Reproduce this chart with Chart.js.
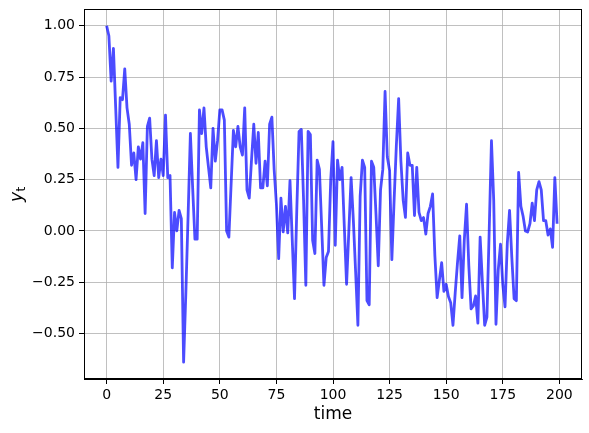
<!DOCTYPE html>
<html>
<head>
<meta charset="utf-8">
<script src="https://cdn.jsdelivr.net/npm/chart.js@4/dist/chart.umd.min.js"></script>
<style>
    body { margin: 0; background: #fff; }
    #wrap { width: 589px; height: 433px; }
</style>
</head>
<body>
<div id="wrap"><canvas id="seriesChart" width="589" height="433"></canvas></div>
<script>
// series y_t, one value per time step (t = 0 .. 199)
const values = [
    1.0, 0.95, 0.73, 0.89, 0.6, 0.31, 0.65, 0.64, 0.79, 0.6,
    0.52, 0.32, 0.38, 0.25, 0.41, 0.35, 0.43, 0.085, 0.51, 0.55,
    0.35, 0.27, 0.44, 0.26, 0.35, 0.27, 0.565, 0.26, 0.27, -0.18,
    0.09, 0.0, 0.1, 0.06, -0.64, -0.3, 0.08, 0.475, 0.21, -0.04,
    -0.04, 0.59, 0.475, 0.6, 0.41, 0.31, 0.21, 0.5, 0.34, 0.44,
    0.59, 0.59, 0.54, 0.0, -0.03, 0.23, 0.49, 0.41, 0.51, 0.41,
    0.37, 0.6, 0.2, 0.16, 0.345, 0.52, 0.33, 0.48, 0.21, 0.21,
    0.34, 0.22, 0.52, 0.555, 0.3, 0.13, -0.135, 0.16, -0.005, 0.12,
    -0.01, 0.245, -0.045, -0.33, 0.1, 0.485, 0.495, 0.15, -0.265, 0.485,
    0.47, -0.045, -0.11, 0.345, 0.3, 0.02, -0.265, -0.13, -0.1, 0.25,
    0.435, -0.07, 0.345, 0.25, 0.31, 0.02, -0.26, 0.0, 0.26, 0.05,
    -0.2, -0.46, 0.17, 0.345, 0.31, -0.34, -0.36, 0.34, 0.31, 0.08,
    -0.17, 0.2, 0.3, 0.68, 0.36, 0.295, -0.14, 0.15, 0.42, 0.645,
    0.34, 0.15, 0.066, 0.38, 0.32, 0.32, 0.075, 0.31, 0.09, 0.05,
    0.065, -0.015, 0.085, 0.12, 0.18, -0.12, -0.325, -0.24, -0.155, -0.295,
    -0.26, -0.32, -0.35, -0.46, -0.3, -0.155, -0.024, -0.325, -0.045, 0.13,
    -0.17, -0.38, -0.366, -0.317, -0.45, -0.03, -0.25, -0.46, -0.42, 0.0,
    0.44, 0.15, -0.455, -0.19, -0.065, -0.26, -0.37, -0.06, 0.1, -0.13,
    -0.33, -0.34, 0.285, 0.12, 0.07, 0.0, -0.005, 0.035, 0.135, 0.05,
    0.2, 0.24, 0.2, 0.05, 0.05, -0.02, 0.01, -0.08, 0.26, 0.035
];
const xTicks = [0, 25, 50, 75, 100, 125, 150, 175, 200];
const yTicks = [-0.5, -0.25, 0, 0.25, 0.5, 0.75, 1.0];

const points = values.map((v, i) => ({ x: i, y: v }));

const FONT = "'DejaVu Sans', sans-serif";

// frame on all four sides + the y_t label (italic y with subscript t)
const framePlugin = {
    id: 'frame',
    afterDraw(chart) {
        const { ctx, chartArea: a } = chart;
        ctx.save();
        ctx.strokeStyle = '#000';
        ctx.lineWidth = 1;
        ctx.strokeRect(a.left + 0.5, a.top + 0.5, a.right - a.left - 1, a.bottom - a.top - 1);

        ctx.translate(22, (a.top + a.bottom) / 2);
        ctx.rotate(-Math.PI / 2);
        ctx.fillStyle = '#000';
        ctx.textBaseline = 'alphabetic';
        ctx.font = "italic 17px " + FONT;
        const w = ctx.measureText('y').width;
        ctx.textAlign = 'left';
        ctx.fillText('y', -8, 0);
        ctx.font = "12px " + FONT;
        ctx.fillText('t', -8 + w + 0.5, 3);
        ctx.restore();
    }
};

new Chart(document.getElementById('seriesChart'), {
    type: 'line',
    data: {
        datasets: [{
            data: points,
            borderColor: 'rgba(0, 0, 255, 0.7)',
            borderWidth: 2.8,
            borderJoinStyle: 'round',
            pointRadius: 0,
            tension: 0,
            fill: false
        }]
    },
    options: {
        responsive: false,
        animation: false,
        layout: { padding: { left: 0, right: 7, top: 9, bottom: 0 } },
        plugins: { legend: { display: false }, tooltip: { enabled: false } },
        scales: {
            x: {
                type: 'linear',
                min: -10,
                max: 210,
                afterBuildTicks: s => { s.ticks = xTicks.map(v => ({ value: v })); },
                afterFit: s => { s.height = 54; s.paddingLeft = 0; s.paddingRight = 0; },
                grid: { color: '#b0b0b0', lineWidth: 0.8, tickColor: '#000', tickLength: 5, tickWidth: 1 },
                border: { color: '#000' },
                ticks: { color: '#000', font: { family: FONT, size: 14 }, padding: 3, maxRotation: 0 },
                title: { display: true, text: 'time', color: '#000', font: { family: FONT, size: 17 }, padding: { top: 0, bottom: 8 } }
            },
            y: {
                min: -0.722,
                max: 1.082,
                afterBuildTicks: s => { s.ticks = yTicks.map(v => ({ value: v })); },
                afterFit: s => { s.width = 84; s.paddingTop = 0; s.paddingBottom = 0; },
                grid: { color: '#b0b0b0', lineWidth: 0.8, tickColor: '#000', tickLength: 5, tickWidth: 1 },
                border: { color: '#000' },
                ticks: {
                    color: '#000',
                    font: { family: FONT, size: 14 },
                    padding: 4,
                    callback: v => (v < 0 ? '\u2212' : '') + Math.abs(v).toFixed(2)
                }
            }
        }
    },
    plugins: [framePlugin]
});
</script>
</body>
</html>
